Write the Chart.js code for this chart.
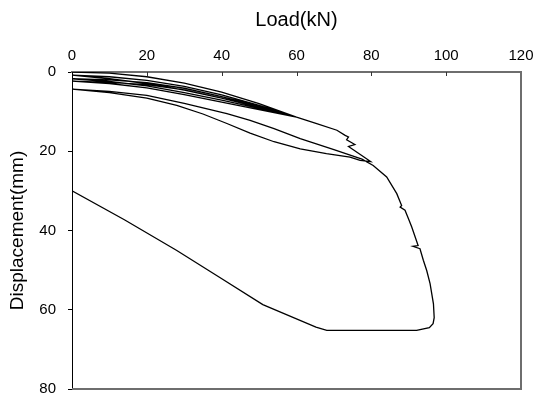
<!DOCTYPE html>
<html>
<head>
<meta charset="UTF-8">
<title>Load-Displacement</title>
<script src="https://cdn.jsdelivr.net/npm/chart.js"></script>
<style>
  html, body { margin: 0; padding: 0; background: #fff; overflow: hidden; }
  canvas { display: block; }
</style>
</head>
<body>
<canvas id="c" width="536" height="394"></canvas>
<script>
// load (kN) and displacement (mm), in test order
const load = [
  0, 10, 20, 30, 40, 50, 60,
  50, 40, 30, 20, 10, 0,
  10, 20, 30, 40, 50, 60,
  50, 40, 30, 20, 10, 0,
  10, 20, 30, 40, 50, 60,
  50, 40, 30, 20, 10, 0,
  10, 20, 30, 40, 50, 60, 65.4, 70.8, 73.0, 73.9, 73.4, 75.6, 73.9, 79.8,
  77, 74.3, 68, 61, 54, 47.6, 41.4, 35, 28, 20, 10, 0,
  10, 20, 30, 41.4, 47.6, 54, 61, 70, 77.5, 80.5, 84.1, 86.8, 88.1, 87.7, 89.0, 89.9,
  90.8, 92.5, 91.1, 93.0, 93.9, 94.8, 95.7, 96.6, 96.8, 96.5, 95.5, 92.1,
  68.1, 65.2, 51.0, 39.4, 27.9, 14, 0
];
const disp = [
  0, 0.3, 1.2, 2.8, 5.1, 8.0, 11.4,
  8.9, 6.6, 4.6, 2.9, 1.7, 0.8,
  1.2, 2.1, 3.6, 5.8, 8.4, 11.4,
  9.2, 7.1, 5.2, 3.5, 2.4, 1.7,
  2.0, 2.7, 4.1, 6.2, 8.6, 11.4,
  9.5, 7.6, 5.7, 4.0, 2.9, 2.3,
  2.6, 3.2, 4.5, 6.6, 8.8, 11.4, 13.0, 14.7, 16.0, 16.4, 17.1, 18.3, 18.8, 22.6,
  22.3, 21.5, 20.6, 19.4, 17.6, 15.4, 13.0, 10.6, 8.4, 6.6, 5.2, 4.3,
  4.9, 5.9, 7.9, 10.5, 12.2, 14.3, 16.8, 19.6, 22.0, 23.6, 26.5, 30.7, 33.7, 34.1, 34.9, 37.0,
  39.1, 43.8, 44.0, 44.6, 47.5, 50.1, 53.4, 58.5, 62.0, 63.5, 64.5, 65.2,
  65.2, 64.4, 58.7, 51.8, 45.0, 37.3, 30.0
];
const xTicks = [0, 20, 40, 60, 80, 100, 120];
const yTicks = [0, 20, 40, 60, 80];

const points = load.map((v, i) => ({ x: v, y: disp[i] }));

// frame on right/bottom and inward ticks on the top axis
const framePlugin = {
  id: 'frame',
  afterDraw(chart) {
    const { ctx, chartArea: a, scales } = chart;
    ctx.save();
    ctx.strokeStyle = '#6e6e6e';
    ctx.lineWidth = 2;
    ctx.beginPath();
    ctx.moveTo(a.right, a.top);
    ctx.lineTo(a.right, a.bottom);
    ctx.lineTo(a.left, a.bottom);
    ctx.stroke();
    ctx.lineWidth = 1;
    ctx.strokeStyle = '#333';
    ctx.beginPath();
    xTicks.forEach(t => {
      if (t === 0 || t === 120) return;
      const px = Math.round(scales.x.getPixelForValue(t)) + 0.5;
      ctx.moveTo(px, a.top);
      ctx.lineTo(px, a.top + 4);
    });
    ctx.stroke();
    ctx.restore();
  }
};

new Chart(document.getElementById('c'), {
  type: 'scatter',
  data: {
    datasets: [{
      data: points,
      showLine: true,
      borderColor: '#000',
      borderWidth: 1.3,
      pointRadius: 0,
      tension: 0
    }]
  },
  options: {
    responsive: false,
    animation: false,
    layout: { padding: { left: 0, top: 0, right: 15, bottom: 5 } },
    plugins: { legend: { display: false }, tooltip: { enabled: false } },
    scales: {
      x: {
        type: 'linear',
        position: 'top',
        min: 0, max: 120,
        afterBuildTicks: s => { s.ticks = xTicks.map(v => ({ value: v })); },
        afterFit: s => { s.height = 72; s.paddingLeft = 0; s.paddingRight = 0; },
        grid: { drawOnChartArea: false, drawTicks: false },
        border: { color: '#6e6e6e', width: 2 },
        ticks: { color: '#000', padding: 7, font: { family: 'Arial', size: 15 } },
        title: {
          display: true, text: 'Load(kN)', color: '#000',
          font: { family: 'Arial', size: 20 }, padding: { top: 8, bottom: 0 }
        }
      },
      y: {
        type: 'linear',
        position: 'left',
        reverse: true,
        min: 0, max: 80,
        afterBuildTicks: s => { s.ticks = yTicks.map(v => ({ value: v })); },
        afterFit: s => { s.width = 72; s.paddingTop = 0; s.paddingBottom = 0; },
        grid: { drawOnChartArea: false, tickLength: 4, color: '#000' },
        border: { color: '#000', width: 1 },
        ticks: { color: '#000', padding: 12, font: { family: 'Arial', size: 15 } },
        title: {
          display: true, text: 'Displacement(mm)', color: '#000',
          font: { family: 'Arial', size: 19 }, padding: { top: 6, bottom: 0 }
        }
      }
    }
  },
  plugins: [framePlugin]
});
</script>
</body>
</html>
